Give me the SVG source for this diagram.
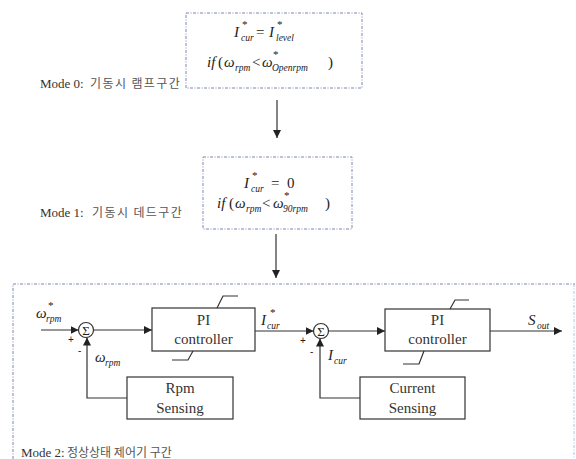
<svg xmlns="http://www.w3.org/2000/svg" width="576" height="459" viewBox="0 0 576 459">
<style>
.bg{fill:#ffffff}
.dbox{fill:none;stroke:#7d86b2;stroke-width:1;stroke-dasharray:3,1.5,1,1.5}
.blk{fill:#ffffff;stroke:#333;stroke-width:1.2}
.ln{fill:none;stroke:#333;stroke-width:1.2}
.arr{marker-end:url(#ah)}
.m{font-family:"Liberation Serif",serif;font-style:italic;font-size:15px;fill:#222}
.n{font-family:"Liberation Serif",serif;font-size:15px;fill:#222}
.s{font-family:"Liberation Serif",serif;font-style:italic;font-size:9.5px;fill:#222}
.st{font-family:"Liberation Serif",serif;font-size:11px;fill:#222}
.t{font-family:"Liberation Serif",serif;font-size:15px;fill:#333;text-anchor:middle}
.lab{font-family:"Liberation Serif",serif;font-size:13px;fill:#333}
.ko{font-family:"Noto Sans CJK KR",sans-serif;font-size:12px;fill:#555}
.ks{letter-spacing:1.4px}
.sg{font-family:"Liberation Serif",serif;font-size:13px;fill:#222;text-anchor:middle}
.pm{font-family:"Liberation Sans",sans-serif;font-size:10px;fill:#222}
</style>
<defs>
<marker id="ah" viewBox="0 0 10 10" refX="10" refY="5" markerWidth="8" markerHeight="8" markerUnits="userSpaceOnUse" orient="auto">
<path d="M0,0 L10,5 L0,10 z" fill="#222"/>
</marker>
</defs>
<rect class="bg" x="0" y="0" width="576" height="459"/>

<g id="mode0">
<rect class="dbox" x="186" y="13" width="176" height="75"/>
<text class="m" x="234" y="37">I</text><text class="st" x="242" y="28">*</text><text class="s" x="241" y="41">cur</text>
<text class="n" x="256" y="37">=</text>
<text class="m" x="269" y="37">I</text><text class="st" x="277" y="28">*</text><text class="s" x="276" y="41">level</text>
<text class="m" x="207" y="67">if</text><text class="n" x="218" y="67">(</text>
<text class="m" x="224" y="67">ω</text><text class="s" x="235" y="71">rpm</text>
<text class="n" x="252" y="67">&lt;</text>
<text class="m" x="262" y="67">ω</text><text class="st" x="273" y="58">*</text><text class="s" x="272" y="71">Openrpm</text>
<text class="n" x="328" y="67">)</text>
<text x="40" y="88"><tspan class="lab">Mode 0:</tspan><tspan class="ko ks" x="90">기동시 램프구간</tspan></text>
</g>

<g id="mode1">
<rect class="dbox" x="203" y="157" width="149" height="72"/>
<text class="m" x="244" y="188">I</text><text class="st" x="252" y="179">*</text><text class="s" x="251" y="192">cur</text>
<text class="n" x="271" y="188">=</text>
<text class="n" x="287" y="188">0</text>
<text class="m" x="217" y="208">if</text><text class="n" x="229" y="208">(</text>
<text class="m" x="235" y="208">ω</text><text class="s" x="246" y="212">rpm</text>
<text class="n" x="262" y="208">&lt;</text>
<text class="m" x="273" y="208">ω</text><text class="st" x="284" y="199">*</text><text class="s" x="283" y="212">90rpm</text>
<text class="n" x="325" y="208">)</text>
<text x="40" y="217"><tspan class="lab">Mode 1:</tspan><tspan class="ko ks" x="92">기동시 데드구간</tspan></text>
</g>

<g id="mode2">
<path class="dbox" d="M13,459 L13,284 L575,284"/>
<path d="M574,284 L574,459" fill="none" stroke="#a9c6e6" stroke-width="1" stroke-dasharray="3,1.5,1,1.5"/>
<text x="21" y="457"><tspan class="lab">Mode 2:</tspan><tspan class="ko" x="67">정상상태 제어기 구간</tspan></text>
</g>

<g id="sum1">
<circle class="blk" cx="86" cy="330" r="7.5"/>
<text class="sg" x="86" y="334.5">Σ</text>
</g>
<g id="pi1">
<rect class="blk" x="152" y="308" width="103" height="43"/>
<path class="ln" d="M217,308 L223,296 L238,296"/>
<path class="ln" d="M193,351 L188,360 L172,360"/>
<text class="t" x="203.5" y="325">PI</text>
<text class="t" x="203.5" y="344">controller</text>
</g>
<g id="rpmsense">
<rect class="blk" x="127" y="377" width="106" height="42"/>
<text class="t" x="180" y="393">Rpm</text>
<text class="t" x="180" y="413">Sensing</text>
</g>
<g id="sum2">
<circle class="blk" cx="321" cy="331" r="7.5"/>
<text class="sg" x="321" y="335.5">Σ</text>
</g>
<g id="pi2">
<rect class="blk" x="385" y="309" width="105" height="42"/>
<path class="ln" d="M450,309 L455,300 L469,300"/>
<path class="ln" d="M424,351 L419,364 L403,364"/>
<text class="t" x="437.5" y="325">PI</text>
<text class="t" x="437.5" y="344">controller</text>
</g>
<g id="cursense">
<rect class="blk" x="360" y="377" width="105" height="42"/>
<text class="t" x="412.5" y="393">Current</text>
<text class="t" x="412.5" y="413">Sensing</text>
</g>

<g id="connectors">
<line class="ln arr" x1="277" y1="100" x2="277" y2="138"/>
<line class="ln arr" x1="276" y1="234" x2="276" y2="278"/>
<line class="ln arr" x1="41" y1="330" x2="78.5" y2="330"/>
<line class="ln arr" x1="93.5" y1="330" x2="152" y2="330"/>
<path class="ln arr" d="M127,398 L87,398 L87,337.5"/>
<line class="ln arr" x1="255" y1="331" x2="313.5" y2="331"/>
<line class="ln arr" x1="328.5" y1="331" x2="385" y2="331"/>
<path class="ln arr" d="M360,398 L320,398 L320,338.5"/>
<line class="ln arr" x1="490" y1="331" x2="562" y2="331"/>
</g>

<g id="labels">
<text class="m" x="36" y="318">ω</text><text class="st" x="48" y="309">*</text><text class="s" x="46" y="322">rpm</text>
<text class="pm" x="68" y="343">+</text>
<text class="pm" x="78" y="354">-</text>
<text class="m" x="95" y="362">ω</text><text class="s" x="105" y="366">rpm</text>
<text class="m" x="261" y="325">I</text><text class="st" x="270" y="316">*</text><text class="s" x="267" y="329">cur</text>
<text class="pm" x="300" y="344">+</text>
<text class="pm" x="310" y="355">-</text>
<text class="m" x="328" y="360">I</text><text class="s" x="334" y="364">cur</text>
<text class="m" x="528" y="325">S</text><text class="s" x="537" y="329">out</text>
</g>
</svg>
